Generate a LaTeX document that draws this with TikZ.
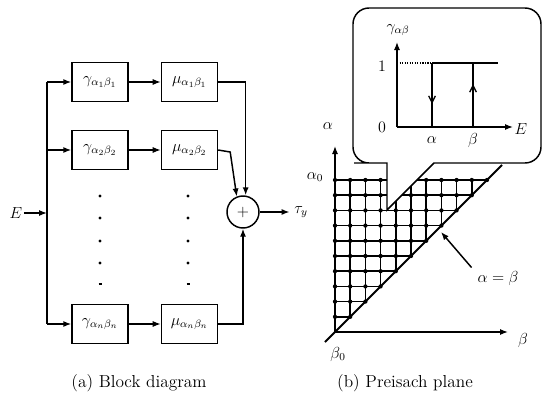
\documentclass[tikz,border=0pt]{standalone}
\usepackage{tikz}
\usetikzlibrary{positioning,arrows.meta,calc}

\begin{document}
\begin{tikzpicture}[
  x=0.75pt, y=-0.75pt,
  font=\large,
  >={Latex[length=6pt,width=4.6pt]},
  blk/.style={draw, line width=1.1pt, minimum width=42pt, minimum height=29pt, inner sep=1pt},
  sumnode/.style={circle, draw, line width=1.1pt, minimum size=24pt, inner sep=0pt},
  wire/.style={line width=1.1pt},
  arr/.style={->, line width=1.1pt},
  gridln/.style={line width=1.2pt},
  barb/.style={-{Straight Barb[length=5pt,width=5pt]}, line width=1pt},
  captxt/.style={font=\fontsize{13}{15}\selectfont},
]
\useasboundingbox (0,0) rectangle (545,396);

% (a) block diagram
\node[blk] (g1) at (100,82) {$\gamma_{\alpha_1\beta_1}$};
\node[blk, right=24pt of g1] (m1) {$\mu_{\alpha_1\beta_1}$};
\node[blk] (g2) at (100,150) {$\gamma_{\alpha_2\beta_2}$};
\node[blk, right=24pt of g2] (m2) {$\mu_{\alpha_2\beta_2}$};
\node[blk] (gn) at (100,324) {$\gamma_{\alpha_n\beta_n}$};
\node[blk, right=24pt of gn] (mn) {$\mu_{\alpha_n\beta_n}$};
\node[sumnode] (sum) at (243,212) {$+$};
\node[inner sep=1pt] (E) at (16,213) {$E$};
\node (tau) at (301,212) {$\tau_y$};
\coordinate (bt) at (47,82);
\coordinate (bb) at (47,324);
\coordinate (bm) at (47,213);

\draw[wire] (bt) -- (bb);
\draw[arr] (E) -- (bm);
\draw[arr] (bt) -- (g1);
\draw[arr] (bt |- g2) -- (g2);
\draw[arr] (bb) -- (gn);
\draw[arr] (g1) -- (m1);
\draw[arr] (g2) -- (m2);
\draw[arr] (gn) -- (mn);
\draw[arr] (m1.east) -| ([xshift=2pt]sum.north);
\draw[arr] (m2.east) -- ++(12,2) -- (sum.112);
\draw[arr] (mn.east) -| (sum.south);
\draw[arr] (sum) -- (tau);

% vertical ellipsis dots
\foreach \cx in {100,188} {
  \foreach \cy in {196,218,241,263}
    \fill (\cx,\cy) circle (1.2pt);
  \draw[line width=0.9pt] (\cx-1.5,284) -- (\cx+1.5,284);
}

% (b) Preisach plane
\coordinate (O) at (335,332);
\def\st{15.2}
\foreach \i in {1,...,10} {
  \draw[gridln] (335+\i*\st,332-\i*\st) -- (335+\i*\st,180);
  \draw[gridln] (335,332-\i*\st) -- (335+\i*\st,332-\i*\st);
}
\foreach \j in {1,...,10} {
  \foreach \i in {0,...,\j}
    \fill (335+\i*\st,332-\j*\st) circle (1.6pt);
}
\draw[arr] (O) -- (335,146);
\draw[arr] (O) -- (508,332);
\draw[line width=1.5pt] (325,342) -- (502,165);
\node (al) at (328,126) {$\alpha$};
\node (be) at (523,340) {$\beta$};
\node (a0) at (315,177) {$\alpha_0$};
\node (b0) at (338,354) {$\beta_0$};
\node (ab) at (498,278) {$\alpha = \beta$};
\coordinate (diag) at (441,232);
\draw[arr] ([xshift=-1pt,yshift=-1pt]ab.north west) -- (diag);

% callout with the hysteron loop
\draw[wire, fill=white] (370,163) [sharp corners] -- (387,163) -- (387,210) -- (434,163)
  [rounded corners=12pt] -- (541,163) -- (541,8) -- (353,8) -- (353,163) -- cycle;
\coordinate (P) at (397,127);
\draw[arr] (P) -- (397,42);
\draw[arr] (P) -- (513,127);
\draw[densely dotted, line width=0.9pt] (397,63) -- (432,63);
\draw[wire] (432,63) -- (498,63);
\draw[wire] (432,63) -- (432,127);
\draw[wire] (473,127) -- (473,63);
\draw[barb] (432,70) -- (432,104);
\draw[barb] (473,120) -- (473,84);
\node (gab) at (398,30) {$\gamma_{\alpha\beta}$};
\node (one) at (382,66) {1};
\node (zero) at (382,127) {0};
\node (ea) at (521,129) {$E$};
\node (la) at (432,140) {$\alpha$};
\node (lb) at (473,140) {$\beta$};

% captions
\node[captxt] (capa) at (139,383) {(a) Block diagram};
\node[captxt] (capb) at (405,383) {(b) Preisach plane};
\end{tikzpicture}
\end{document}
